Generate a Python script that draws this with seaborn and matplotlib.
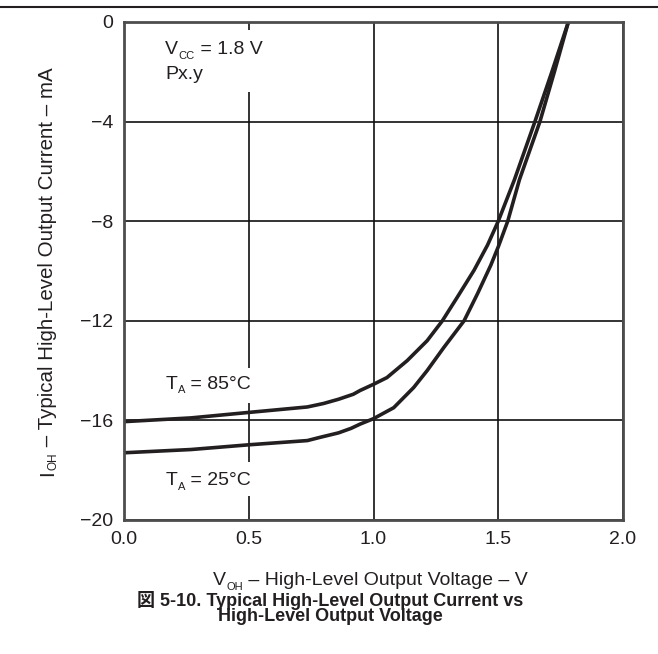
import matplotlib
matplotlib.use("Agg")
import matplotlib.pyplot as plt
from matplotlib.patches import Rectangle
import seaborn as sns
import pandas as pd

# curve readings (V, mA)
v_85 = [0.0, 0.268, 0.5, 0.735, 0.80, 0.86, 0.919, 0.946, 1.0, 1.054, 1.135, 1.215, 1.276, 1.336,
        1.403, 1.457, 1.5, 1.565, 1.647, 1.715, 1.781]
i_85 = [-16.05, -15.9, -15.68, -15.46, -15.32, -15.15, -14.95, -14.8, -14.55, -14.28, -13.6, -12.8, -12.0, -11.05,
        -9.97, -8.96, -8.0, -6.33, -4.0, -2.0, 0.0]
v_25 = [0.0, 0.268, 0.5, 0.735, 0.786, 0.86, 0.91, 0.946, 1.0, 1.081, 1.161, 1.215, 1.282, 1.363, 1.417,
        1.47, 1.5, 1.538, 1.585, 1.667, 1.725, 1.781]
i_25 = [-17.3, -17.17, -16.98, -16.81, -16.68, -16.5, -16.32, -16.15, -15.93, -15.49, -14.68, -14.0, -13.07, -12.0, -10.91,
        -9.77, -9.03, -8.0, -6.33, -4.0, -2.0, 0.0]

x_ticks = [0.0, 0.5, 1.0, 1.5, 2.0]
y_ticks = [0, -4, -8, -12, -16, -20]

df = pd.concat([
    pd.DataFrame({"v": v_85, "i": i_85, "t": "85"}),
    pd.DataFrame({"v": v_25, "i": i_25, "t": "25"}),
])

INK = "#231f20"

sns.set_style("white")
plt.rcParams["font.family"] = ["Liberation Sans", "Noto Sans CJK JP"]

fig = plt.figure(figsize=(6.58, 6.54), dpi=100)
ax = fig.add_axes([124 / 658, 1 - 520 / 654, 499 / 658, 498 / 654])

sns.lineplot(data=df, x="v", y="i", units="t", estimator=None, sort=False,
             color=INK, linewidth=2.6, ax=ax, legend=False,
             solid_joinstyle="round", solid_capstyle="round")

ax.set_xlim(0, 2)
ax.set_ylim(-20, 0)
ax.set_xticks(x_ticks)
ax.set_xticklabels([f"{t:.1f}" for t in x_ticks])
ax.set_yticks(y_ticks)
ax.set_yticklabels([str(t).replace("-", "\u2212") for t in y_ticks])
ax.tick_params(length=0, labelsize=14, colors=INK, pad=8)
ax.grid(True, color="#111111", linewidth=1.2)
ax.set_axisbelow(True)
for s in ax.spines.values():
    s.set_color("#4d4d4d")
    s.set_linewidth(2)
ax.set_xlabel("")
ax.set_ylabel("")


def sub_text(x, y, main, sub, rest, coords, size=14, subsize=8):
    # main + small subscript + rest on a common baseline
    t1 = ax.annotate(main, (x, y), xycoords=coords, fontsize=size, color=INK,
                     ha="left", va="baseline", annotation_clip=False, zorder=4)
    t2 = ax.annotate(sub, (1, 0), xycoords=t1, xytext=(0.5, -1.8), textcoords="offset points",
                     fontsize=subsize, color=INK, ha="left", va="bottom", zorder=4)
    ax.annotate(rest, (1, 0), xycoords=(t2, t1), xytext=(0, 0), textcoords="offset points",
                fontsize=size, color=INK, ha="left", va="bottom", zorder=4)


def sub_text_v(x, y, main, sub, rest, size=14.8, subsize=8.5):
    # rotated version, reads bottom to top
    t1 = fig.text(x, y, main, rotation=90, fontsize=size, color=INK, ha="right", va="bottom")
    t2 = ax.annotate(sub, (1, 1), xycoords=t1, xytext=(1.9, 0.5), textcoords="offset points",
                     rotation=90, fontsize=subsize, color=INK, ha="right", va="bottom",
                     annotation_clip=False)
    ax.annotate(rest, (1, 1), xycoords=(t1, t2), xytext=(0, 0), textcoords="offset points",
                rotation=90, fontsize=size, color=INK, ha="right", va="bottom",
                annotation_clip=False)


def blank(x0, y0, x1, y1):
    # white patch (pixel box) that hides grid lines behind a note
    ax.add_patch(Rectangle(((x0 - 124) / 499, 1 - (y1 - 22) / 498), (x1 - x0) / 499, (y1 - y0) / 498,
                           transform=ax.transAxes, facecolor="white", edgecolor="none", zorder=1.5))


blank(158, 30, 256, 92)
blank(158, 368, 258, 403)
blank(158, 462, 258, 496)

sub_text(0.165, -1.3, "V", "CC", " = 1.8 V", "data")
ax.text(0.165, -2.3, "Px.y", fontsize=14, color=INK, ha="left", va="baseline")
sub_text(0.165, -14.72, "T", "A", " = 85°C", "data")
sub_text(0.165, -18.6, "T", "A", " = 25°C", "data")

sub_text_v(57 / 658, 1 - 476 / 654, "I", "OH", " – Typical High-Level Output Current – mA")
sub_text(213 / 658, 1 - 585 / 654, "V", "OH", " – High-Level Output Voltage – V", "figure fraction")

fig.text(330 / 658, 1 - 608 / 654, "図 5-10. Typical High-Level Output Current vs\nHigh-Level Output Voltage",
         fontsize=13, fontweight="bold", ha="center", va="center", multialignment="center",
         linespacing=0.85, color=INK)

fig.add_artist(plt.Line2D([0, 1], [1 - 7 / 654, 1 - 7 / 654], color=INK, linewidth=1.5))

fig.savefig("out.png", dpi=100)
